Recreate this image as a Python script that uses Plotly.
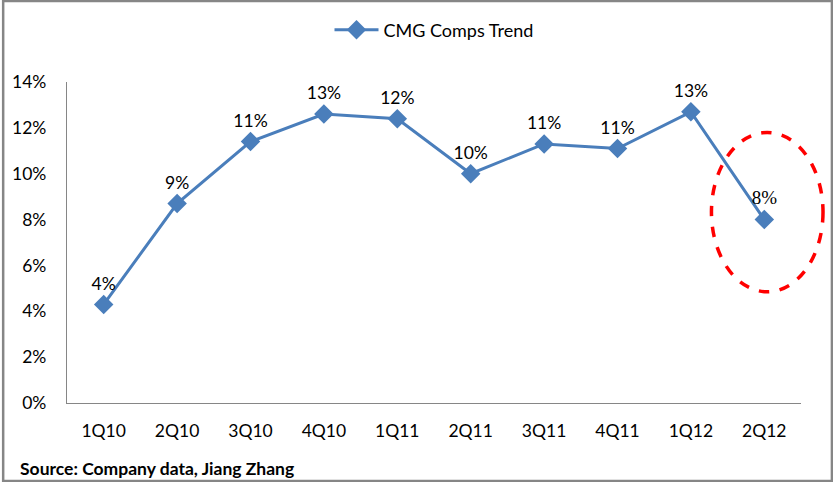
import plotly.graph_objects as go

quarters = ["1Q10", "2Q10", "3Q10", "4Q10", "1Q11", "2Q11", "3Q11", "4Q11", "1Q12", "2Q12"]
comps = [4.3, 8.7, 11.4, 12.6, 12.4, 10.0, 11.3, 11.1, 12.7, 8.0]
y_ticks = [0, 2, 4, 6, 8, 10, 12, 14]
y_tick_labels = ["0%", "2%", "4%", "6%", "8%", "10%", "12%", "14%"]

W, H = 833, 482
ML, MR, MT, MB = 65, 32, 82, 79
PW, PH = W - ML - MR, H - MT - MB
YMAX = 14

FONT = "Lato, Calibri, Carlito, sans-serif"
labels = [f"{int(v + 0.5):d}%" for v in comps]
fams = [FONT] * (len(comps) - 1) + ["Liberation Serif, Times New Roman, serif"]
sizes = [17.5] * (len(comps) - 1) + [19]

fig = go.Figure()
fig.add_trace(go.Scatter(
    x=quarters, y=comps, name="CMG Comps Trend",
    mode="lines+markers+text",
    line=dict(color="#4A7EBB", width=3),
    marker=dict(symbol="diamond", size=15, color="#4A7EBB"),
    text=labels, textposition="top center",
    textfont=dict(family=fams, size=sizes, color="#000000"),
    cliponaxis=False,
))

# highlight ellipse around last quarter (paper coords derived from category index / y value)
n = len(quarters)
last = n - 1
def xp(v):
    return (v + 0.5) / n
fig.add_shape(type="circle", xref="paper", yref="paper",
              x0=xp(last - 0.72), x1=xp(last + 0.80),
              y0=4.85 / YMAX, y1=11.8 / YMAX,
              line=dict(color="#FF0000", width=3.5, dash="dash"))

# outer border
fig.add_shape(type="rect", xref="paper", yref="paper",
              x0=-(ML - 1) / PW, x1=1 + (MR - 1) / PW,
              y0=-(MB - 1) / PH, y1=1 + (MT - 1) / PH,
              line=dict(color="#868686", width=2.5))

fig.add_annotation(text="<b>Source: Company data, Jiang Zhang</b>",
                   xref="paper", yref="paper",
                   x=(16 - ML) / PW, y=(H - MB - 468) / PH,
                   xanchor="left", yanchor="middle", showarrow=False,
                   font=dict(family=FONT, size=17.5, color="#000000"))

fig.update_layout(
    width=W, height=H,
    margin=dict(l=ML, r=MR, t=MT, b=MB),
    paper_bgcolor="white", plot_bgcolor="white",
    font=dict(family=FONT, size=17, color="#000000"),
    showlegend=True,
    legend=dict(orientation="h", x=0.5, xanchor="center",
                y=1 + (MT - 30) / PH, yanchor="middle",
                font=dict(size=18), itemwidth=44),
    xaxis=dict(type="category", range=[-0.5, last + 0.5],
               showline=True, linecolor="#868686", linewidth=1.3,
               showgrid=False, ticks="", tickfont=dict(size=17.5),
               ticklabelstandoff=12),
    yaxis=dict(range=[0, YMAX], tickvals=y_ticks, ticktext=y_tick_labels,
               showline=True, linecolor="#868686", linewidth=1.3,
               showgrid=False, ticks="", zeroline=False,
               tickfont=dict(size=17.5), ticklabelstandoff=16),
)

fig.write_html("out.html", config={"displayModeBar": False},
               post_script="document.body.style.margin='0';")
